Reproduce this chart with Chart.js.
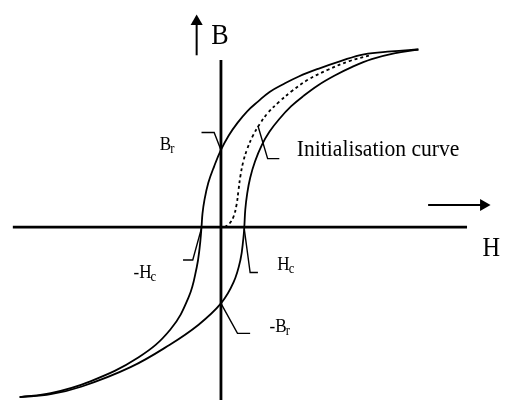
<!DOCTYPE html>
<html>
<head>
<meta charset="utf-8">
<script src="https://cdn.jsdelivr.net/npm/chart.js@4.4.0/dist/chart.umd.min.js"></script>
<style>
  html, body { margin: 0; padding: 0; background: #fff; }
  #wrap { width: 510px; height: 407px; position: relative; }
</style>
</head>
<body>
<div id="wrap"><canvas id="loop"></canvas></div>
<script>
// B-H hysteresis loop (arbitrary units)

// descending branch, from +saturation down to -saturation
var upperH = [20.3, 17.5, 14.7, 12.3, 10.0, 8.0, 6.4, 5.0, 3.8, 2.7, 1.7, 0.8, 0.0, -0.7, -1.3, -1.7, -1.9, -2.0, -2.2, -2.5, -3.3, -5.2, -8.5, -13.5, -17.5, -20.7];
var upperB = [18.4, 18.2, 17.9, 17.2, 16.4, 15.6, 14.8, 14.0, 13.0, 12.0, 10.8, 9.5, 8.0, 6.3, 4.6, 2.8, 1.4, 0.0, -2.2, -4.2, -7.2, -10.6, -13.5, -16.0, -17.2, -17.6];

// ascending branch, from -saturation back up
var lowerH = [-20.7, -17.5, -14.3, -9.3, -5.3, -2.3, 0.0, 1.3, 2.0, 2.3, 2.4, 2.5, 2.7, 3.0, 3.5, 4.2, 5.0, 6.0, 7.2, 8.5, 10.0, 11.7, 13.5, 15.5, 17.8, 20.3];
var lowerB = [-17.6, -17.3, -16.5, -14.5, -12.2, -10.1, -7.9, -5.7, -3.4, -1.2, 0.0, 1.8, 3.5, 5.1, 6.8, 8.5, 9.9, 11.2, 12.5, 13.6, 14.7, 15.7, 16.6, 17.4, 18.0, 18.4];

// initial magnetisation curve (dashed)
var initH = [0.4, 0.9, 1.3, 1.6, 1.8, 2.0, 2.3, 2.7, 3.3, 4.0, 4.8, 6.0, 7.3, 9.0, 11.0, 13.2, 15.3];
var initB = [0.0, 0.4, 1.1, 2.3, 3.8, 5.3, 6.8, 8.1, 9.5, 10.7, 11.8, 13.0, 14.1, 15.3, 16.3, 17.2, 17.8];

// axes and arrows
var hAxis = [[-21.4, 0], [25.3, 0]];
var bAxis = [[0, 17.3], [0, -17.9]];
var hArrow = [[21.3, 2.3], [27.0, 2.3]];
var bArrow = [[-2.5, 17.8], [-2.5, 21.3]];

// callout leaders: label side -> point on the curve
var leaderBr = [[-2.0, 9.8], [-0.7, 9.8], [0.0, 8.0]];
var leaderInit = [[6.0, 7.1], [4.8, 7.1], [3.8, 10.5]];
var leaderNegHc = [[-3.9, -3.4], [-2.9, -3.4], [-2.0, -0.1]];
var leaderHc = [[3.8, -4.7], [3.0, -4.7], [2.4, -0.2]];
var leaderNegBr = [[3.0, -11.0], [1.7, -11.0], [0.0, -7.9]];

var labels = [
  { text: 'B', sub: '', x: -1.0, y: 19.0, size: 29 },
  { text: 'H', sub: '', x: 26.9, y: -3.0, size: 27 },
  { text: 'B', sub: 'r', x: -6.3, y: 8.0, size: 19 },
  { text: 'Initialisation curve', sub: '', x: 7.8, y: 7.4, size: 24 },
  { text: '-H', sub: 'c', x: -9.0, y: -5.3, size: 19 },
  { text: 'H', sub: 'c', x: 5.8, y: -4.4, size: 19 },
  { text: '-B', sub: 'r', x: 5.0, y: -10.9, size: 19 }
];

function pts(hs, bs) {
  var out = [];
  for (var i = 0; i < hs.length; i++) {
    out.push({ x: hs[i], y: bs[i] });
  }
  return out;
}

function pairs(arr) {
  return arr.map(function(p) { return { x: p[0], y: p[1] }; });
}

function line(data, width, extra) {
  var ds = {
    data: data,
    showLine: true,
    borderColor: '#000',
    backgroundColor: '#000',
    borderWidth: width,
    pointRadius: 0,
    tension: 0,
    fill: false,
    clip: false
  };
  for (var k in extra) ds[k] = extra[k];
  return ds;
}

// arrow head only on the last point
function arrow(data, rot) {
  return line(data, 2, {
    pointStyle: 'triangle',
    rotation: rot,
    pointRadius: function(c) { return c.dataIndex === data.length - 1 ? 7 : 0; },
    pointBorderWidth: 0
  });
}

var textPlugin = {
  id: 'loopText',
  afterDatasetsDraw: function(chart) {
    var ctx = chart.ctx;
    var xs = chart.scales.x, ys = chart.scales.y;
    labels.forEach(function(l) {
      var px = xs.getPixelForValue(l.x);
      var py = ys.getPixelForValue(l.y);
      ctx.save();
      ctx.translate(px, py);
      ctx.scale(0.9, 1);
      ctx.fillStyle = '#000';
      ctx.textBaseline = 'alphabetic';
      ctx.font = l.size + 'px "Liberation Serif"';
      ctx.fillText(l.text, 0, 0);
      if (l.sub) {
        var w = ctx.measureText(l.text).width;
        ctx.font = Math.round(l.size * 0.72) + 'px "Liberation Serif"';
        ctx.fillText(l.sub, w - 1, 3);
      }
      ctx.restore();
    });
  }
};

var ctx = document.getElementById('loop');
var chart = new Chart(ctx, {
  type: 'scatter',
  data: {
    datasets: [
      line(pairs(hAxis), 2.8),
      line(pairs(bAxis), 2.8),
      arrow(pairs(hArrow), 90),
      arrow(pairs(bArrow), 0),
      line(pts(upperH, upperB), 1.8, { tension: 0.4 }),
      line(pts(lowerH, lowerB), 1.8, { tension: 0.4 }),
      line(pts(initH, initB), 1.8, { tension: 0.4, borderDash: [3, 3] }),
      line(pairs(leaderBr), 1.4),
      line(pairs(leaderInit), 1.4),
      line(pairs(leaderNegHc), 1.4),
      line(pairs(leaderHc), 1.4),
      line(pairs(leaderNegBr), 1.4)
    ]
  },
  options: {
    responsive: true,
    maintainAspectRatio: false,
    animation: false,
    layout: { padding: 0 },
    plugins: { legend: { display: false }, tooltip: { enabled: false } },
    scales: {
      x: { type: 'linear', min: -22, max: 29, display: false },
      y: { type: 'linear', min: -17.9, max: 22.8, display: false }
    }
  },
  plugins: [textPlugin]
});
</script>
</body>
</html>
